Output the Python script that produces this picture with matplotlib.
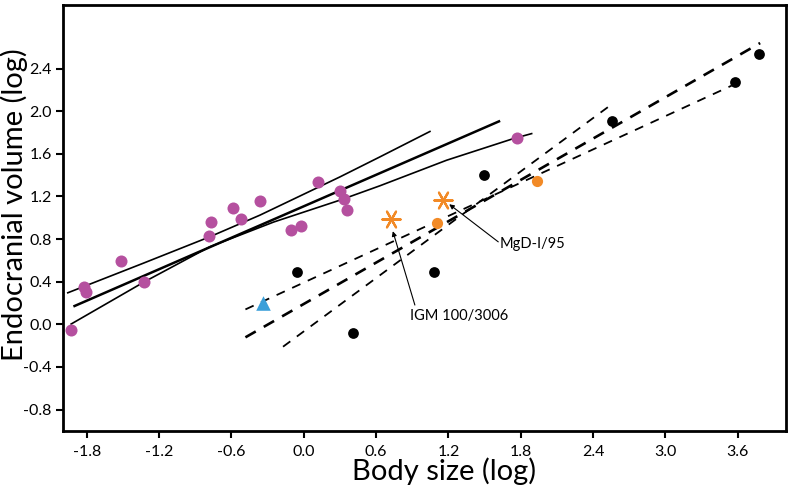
import matplotlib.pyplot as plt
import numpy as np

plt.rcParams['font.family'] = ['Lato', 'DejaVu Sans']

# magenta group (body size, endocranial volume)
mag_x = [-1.935, -1.827, -1.81, -1.514, -1.326, -0.786, -0.77, -0.587, -0.518, -0.36,
         -0.102, -0.025, 0.122, 0.299, 0.335, 0.36, 1.772]
mag_y = [-0.05, 0.347, 0.305, 0.596, 0.40, 0.83, 0.962, 1.093, 0.987, 1.162,
         0.884, 0.921, 1.336, 1.256, 1.18, 1.071, 1.753]

# black group
blk_x = [-0.052, 0.407, 1.083, 1.498, 2.561, 3.58, 3.78]
blk_y = [0.49, -0.082, 0.49, 1.40, 1.908, 2.274, 2.54]

# orange dots and asterisks
org_x = [1.102, 1.932]
org_y = [0.952, 1.346]
ast_x = [0.723, 1.157]
ast_y = [0.993, 1.165]

# blue triangle
tri_x = [-0.338]
tri_y = [0.197]

# solid regression + band (magenta group)
fit_x = [-1.902, 1.62]
fit_y = [0.172, 1.905]
up_x = [-1.958, -1.335, -0.781, -0.365, 0.299, 0.631, 1.047]
up_y = [0.296, 0.572, 0.821, 1.024, 1.383, 1.571, 1.81]
lo_x = [-1.93, -1.321, -0.781, -0.25, 0.299, 0.631, 1.185, 1.739, 1.891]
lo_y = [0.003, 0.40, 0.727, 0.96, 1.165, 1.30, 1.54, 1.743, 1.79]

# dashed lines (black group)
d_mid_x = [-0.484, 3.787]
d_mid_y = [-0.122, 2.64]
d_up_x = [-0.484, 3.55]
d_up_y = [0.14, 2.24]
d_st_x = [-0.172, 2.57]
d_st_y = [-0.21, 2.077]

xticks = [-1.8, -1.2, -0.6, 0.0, 0.6, 1.2, 1.8, 2.4, 3.0, 3.6]
yticks = [-0.8, -0.4, 0.0, 0.4, 0.8, 1.2, 1.6, 2.0, 2.4]

fig = plt.figure(figsize=(7.92, 4.93), dpi=100)
ax = fig.add_axes([0.0792, 0.126, 0.913, 0.8645])

ax.plot(fit_x, fit_y, color='black', lw=1.8)
ax.plot(up_x, up_y, color='black', lw=1.2)
ax.plot(lo_x, lo_y, color='black', lw=1.2)

ax.plot(d_mid_x, d_mid_y, color='black', lw=1.9, dashes=(4.5, 3.5))
ax.plot(d_up_x, d_up_y, color='black', lw=1.3, dashes=(5, 4.5))
ax.plot(d_st_x, d_st_y, color='black', lw=1.3, dashes=(5, 4.5))

ax.scatter(mag_x, mag_y, s=75, color='#b5509f', zorder=3, linewidths=0)
ax.scatter(blk_x, blk_y, s=60, color='black', zorder=3, linewidths=0)
ax.scatter(org_x, org_y, s=65, color='#f28a26', zorder=3, linewidths=0)
ax.scatter(ast_x, ast_y, s=170, color='#f28a26', marker=(6, 2, 90), linewidths=1.6, zorder=3)
ax.scatter(tri_x, tri_y, s=110, color='#3a9fd9', marker='^', zorder=3, linewidths=0)

arw = dict(arrowstyle='-|>', color='black', lw=0.8, mutation_scale=7, shrinkA=0, shrinkB=0)
ax.annotate('', xy=(0.739, 0.874), xytext=(0.922, 0.181), arrowprops=arw)
ax.text(0.88, 0.078, 'IGM 100/3006', fontsize=10.5, va='center', ha='left')
ax.annotate('', xy=(1.207, 1.127), xytext=(1.614, 0.774), arrowprops=arw)
ax.text(1.628, 0.75, 'MgD-I/95', fontsize=10.5, va='center', ha='left')

ax.set_xlim(-2.0, 4.0)
ax.set_ylim(-1.0, 3.0)
ax.set_xticks(xticks)
ax.set_yticks(yticks)
ax.set_xticklabels([f'{t:.1f}' for t in xticks])
ax.set_yticklabels([f'{t:.1f}' for t in yticks])
ax.tick_params(direction='out', length=5, width=1.5, labelsize=11.5)
ax.tick_params(axis='x', pad=5)
ax.tick_params(axis='y', pad=3)
for s in ax.spines.values():
    s.set_linewidth(2)

ax.set_xlabel('Body size (log)', fontsize=21)
ax.set_ylabel('Endocranial volume (log)', fontsize=21)
ax.xaxis.set_label_coords(0.528, -0.063)
ax.yaxis.set_label_coords(-0.048, 0.531)

plt.savefig('out.png', dpi=100)
